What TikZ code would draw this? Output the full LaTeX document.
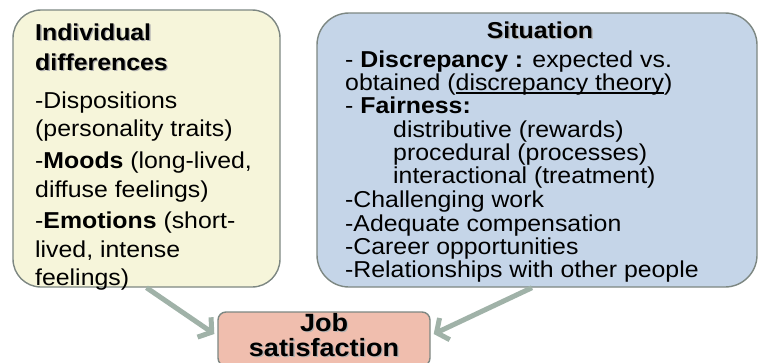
\documentclass[tikz,border=0pt]{standalone}
\usepackage{fontspec}
\setmainfont{Liberation Sans}[FakeStretch=1.08]
\usetikzlibrary{arrows.meta}
\definecolor{creamfill}{RGB}{246,245,218}
\definecolor{bluefill}{RGB}{197,213,232}
\definecolor{salmonfill}{RGB}{240,190,174}
\definecolor{boxborder}{RGB}{125,135,130}
\definecolor{arrowcol}{RGB}{160,178,168}
\newcommand\shtxt[1]{\leavevmode\rlap{\kern1.3pt\raisebox{-1.3pt}{\textcolor{black!30}{#1}}}#1}
\newcommand\myul[1]{\setbox0\hbox{#1}\rlap{\rule[-3.5pt]{\wd0}{1.1pt}}\box0}
\tikzset{
  panel/.style={draw=boxborder, line width=1.4pt, inner sep=0pt},
  txt/.style={anchor=base west, inner sep=0pt, font=\fontsize{23}{23}\selectfont},
  jobtxt/.style={anchor=base, inner sep=0pt, font=\fontsize{25}{25}\selectfont\bfseries},
  conn/.style={draw=arrowcol, line width=5pt, -{Straight Barb[length=9pt,width=24pt]}}
}
\begin{document}
\begin{tikzpicture}[x=1pt,y=-1pt]
\useasboundingbox (0,0) rectangle (759,362);
% boxes
\node[panel, fill=creamfill, rounded corners=28pt, minimum width=267pt, minimum height=277pt] (ind) at (146.5,148.5) {};
\node[panel, fill=bluefill, rounded corners=32pt, minimum width=440pt, minimum height=274pt] (sit) at (537,150) {};
\node[panel, fill=salmonfill, rounded corners=8pt, minimum width=212pt, minimum height=54pt] (job) at (324,339) {};
% left text
\node[txt] (i1) at (35,40) {\bfseries\shtxt{Individual}};
\node[txt] (i2) at (35,70) {\bfseries\shtxt{differences}};
\node[txt] (i3) at (35,108) {-Dispositions};
\node[txt] (i4) at (35,136) {(personality traits)};
\node[txt] (i5) at (35,168) {-\textbf{Moods} (long-lived,};
\node[txt] (i6) at (35,197) {diffuse feelings)};
\node[txt] (i7) at (35,228) {-\textbf{Emotions} (short-};
\node[txt] (i8) at (35,257) {lived, intense};
\node[txt] (i9) at (35,285) {feelings)};
% right text
\node[txt, anchor=base] (s0) at (540,38) {\bfseries\shtxt{Situation}};
\node[txt] (s1) at (345,67) {- \textbf{Discrepancy :} expected vs.};
\node[txt] (s2) at (345,90) {obtained (\myul{discrepancy theory})};
\node[txt] (s3) at (345,113) {- \textbf{Fairness:}};
\node[txt] (s4) at (393,137) {distributive (rewards)};
\node[txt] (s5) at (393,160) {procedural (processes)};
\node[txt] (s6) at (393,183) {interactional (treatment)};
\node[txt] (s7) at (345,207) {-Challenging work};
\node[txt] (s8) at (345,231) {-Adequate compensation};
\node[txt] (s9) at (345,254) {-Career opportunities};
\node[txt] (s10) at (345,277) {-Relationships with other people};
% job text
\node[jobtxt] (j1) at (324,331) {\shtxt{Job}};
\node[jobtxt] (j2) at (324,356) {\shtxt{satisfaction}};
% connectors
\draw[conn] (ind.south) -- ([xshift=-3pt,yshift=5pt]job.west);
\draw[conn] ([xshift=-5pt]sit.south) -- ([xshift=3pt,yshift=5pt]job.east);
\end{tikzpicture}
\end{document}
